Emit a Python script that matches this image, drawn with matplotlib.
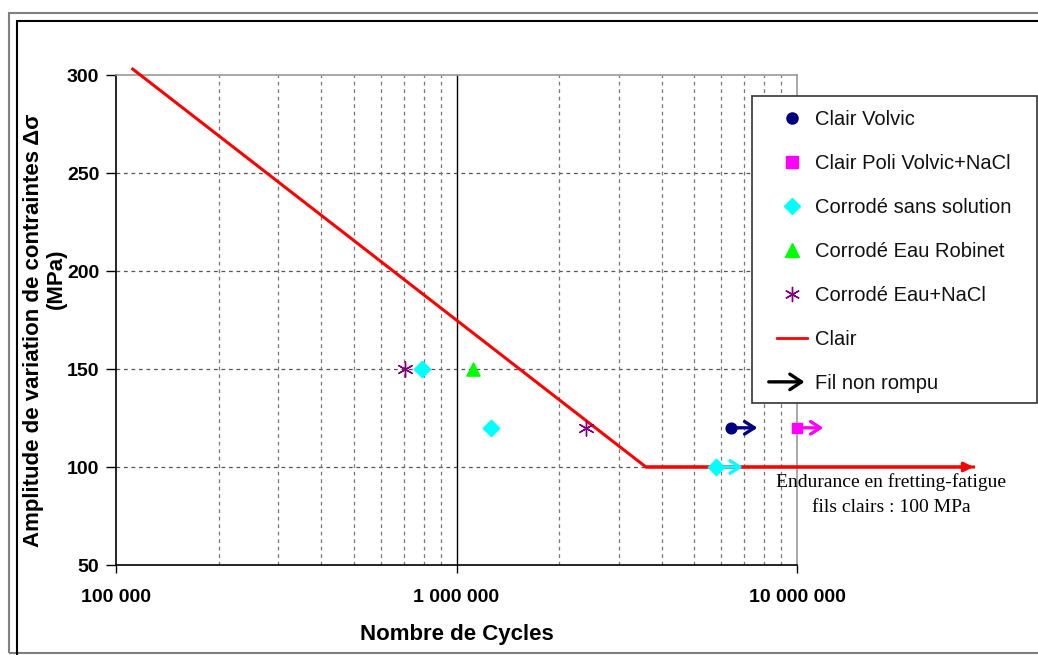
import numpy as np
import matplotlib.pyplot as plt
from matplotlib.lines import Line2D
from matplotlib.patches import Rectangle, FancyArrowPatch
from matplotlib.legend_handler import HandlerPatch
from matplotlib.transforms import offset_copy

plt.rcParams['font.family'] = ['Liberation Sans', 'DejaVu Sans']

# data (cycles, MPa)
clair_volvic_n = [6.4e6]
clair_volvic_s = [120]
clair_poli_n = [1.0e7]
clair_poli_s = [120]
sans_solution_n = [7.9e5, 1.26e6, 5.8e6]
sans_solution_s = [150, 120, 100]
eau_robinet_n = [1.12e6]
eau_robinet_s = [150]
eau_nacl_n = [7.05e5, 2.4e6]
eau_nacl_s = [150, 120]
clair_n = [1.12e5, 3.6e6, 3.3e7]
clair_s = [303, 100, 100]

# points where the wire did not break (arrow to the right)
non_rompu_n = [6.4e6, 1.0e7, 5.8e6]
non_rompu_s = [120, 120, 100]
non_rompu_c = ['#000080', '#FF00FF', '#00FFFF']

x_ticks = [1e5, 1e6, 1e7]
x_tick_labels = ['100 000', '1 000 000', '10 000 000']
y_ticks = [50, 100, 150, 200, 250, 300]

fig = plt.figure(figsize=(10.38, 6.55), dpi=100)
W, H = 1038, 655
ax = fig.add_axes([116 / W, 1 - 565 / H, (797 - 116) / W, (565 - 75) / H])

# outer frames
fig.add_artist(Rectangle((9 / W, 1 - 653 / H), 1.2, (653 - 13) / H, transform=fig.transFigure,
                         fill=False, edgecolor='#808080', lw=1.5))
fig.add_artist(Rectangle((17 / W, -0.1), 1.2, 0.1 + (H - 21) / H, transform=fig.transFigure,
                         fill=False, edgecolor='black', lw=1.5))

ax.set_xscale('log')
ax.set_xlim(1e5, 1e7)
ax.set_ylim(50, 300)

# grid
for yv in y_ticks[1:-1]:
    ax.axhline(yv, color='#555555', lw=0.9, ls=(0, (3, 3)), zorder=1)
for dec in [1e5, 1e6]:
    for m in range(2, 10):
        ax.axvline(dec * m, color='#777777', lw=0.9, ls=(0, (3, 3)), zorder=1)
ax.axvline(1e6, color='black', lw=1.0, zorder=1)

for s in ['top', 'right']:
    ax.spines[s].set_color('#999999')
    ax.spines[s].set_linewidth(1.2)
for s in ['left', 'bottom']:
    ax.spines[s].set_color('black')
    ax.spines[s].set_linewidth(1.2)

ax.set_xticks(x_ticks)
ax.set_xticklabels(x_tick_labels, fontsize=14, fontweight='bold')
ax.set_xticks([], minor=True)
ax.set_yticks(y_ticks)
ax.set_yticklabels([str(v) for v in y_ticks], fontsize=14, fontweight='bold')
ax.tick_params(axis='x', length=6, width=1, pad=11)
ax.tick_params(axis='y', length=7, width=1, pad=5)

# Clair line + endurance arrow
ax.plot(clair_n, clair_s, color='#FF0000', lw=2.2, clip_on=False, zorder=3)
ax.annotate('', xy=(clair_n[-1], clair_s[-1]), xytext=(clair_n[-2], clair_s[-2]),
            arrowprops=dict(arrowstyle='-|>', color='#FF0000', lw=2.2, mutation_scale=14,
                            shrinkA=0, shrinkB=0), annotation_clip=False, zorder=3)

# arrows for unbroken wires
for n, s, c in zip(non_rompu_n, non_rompu_s, non_rompu_c):
    ax.annotate('', xy=(n, s), xycoords=offset_copy(ax.transData, fig, x=19, units='points'),
                xytext=(n, s), textcoords='data',
                arrowprops=dict(arrowstyle='->,head_length=0.7,head_width=0.45', color=c, lw=2.4,
                                shrinkA=0, shrinkB=0), annotation_clip=False, zorder=4)

ax.scatter(clair_volvic_n, clair_volvic_s, marker='o', s=60, color='#000080', zorder=5, clip_on=False)
ax.scatter(clair_poli_n, clair_poli_s, marker='s', s=60, color='#FF00FF', zorder=5, clip_on=False)
ax.scatter(sans_solution_n, sans_solution_s, marker='D', s=70, color='#00FFFF', zorder=5)
ax.scatter(eau_robinet_n, eau_robinet_s, marker='^', s=90, color='#00FF00', zorder=5)
ax.scatter(eau_nacl_n, eau_nacl_s, marker=(6, 2, 0), s=120, color='#800080', lw=1, zorder=5)

ax.set_xlabel('Nombre de Cycles', fontsize=16, fontweight='bold', labelpad=13)
fig.text(34 / W, 1 - 330 / H, 'Amplitude de variation de contraintes Δσ', rotation=90,
         fontsize=16, fontweight='bold', ha='center', va='center')
fig.text(56 / W, 1 - 279 / H, '(MPa)', rotation=90,
         fontsize=16, fontweight='bold', ha='center', va='center')

ax.text(891 / W, 1 - 482 / H, 'Endurance en fretting-fatigue', transform=fig.transFigure,
        family='Liberation Serif', fontsize=14, ha='center', va='center')
ax.text(891 / W, 1 - 507 / H, 'fils clairs : 100 MPa', transform=fig.transFigure,
        family='Liberation Serif', fontsize=14, ha='center', va='center')


def make_arrow(legend, orig_handle, xdescent, ydescent, width, height, fontsize):
    return FancyArrowPatch((-xdescent - 8, height / 2 - ydescent), (width - xdescent, height / 2 - ydescent),
                           arrowstyle='->,head_length=0.6,head_width=0.4', mutation_scale=14)


handles = [
    Line2D([], [], ls='none', marker='o', ms=8, color='#000080'),
    Line2D([], [], ls='none', marker='s', ms=8, color='#FF00FF'),
    Line2D([], [], ls='none', marker='D', ms=8, color='#00FFFF'),
    Line2D([], [], ls='none', marker='^', ms=10, color='#00FF00'),
    Line2D([], [], ls='none', marker=(6, 2, 0), ms=11, color='#800080', mew=1),
    Line2D([], [], color='#FF0000', lw=2),
    FancyArrowPatch((0, 0), (1, 0), lw=2.4, color='black'),
]
labels = ['Clair Volvic', 'Clair Poli Volvic+NaCl', 'Corrodé sans solution', 'Corrodé Eau Robinet',
          'Corrodé Eau+NaCl', 'Clair', 'Fil non rompu']
leg = fig.legend(handles, labels, loc='upper left', bbox_to_anchor=(765 / W, 1 - 98 / H),
                 bbox_transform=fig.transFigure, fontsize=14.5, frameon=False,
                 labelspacing=1.24, handlelength=1.5,
                 handletextpad=0.4, borderpad=0.6, borderaxespad=0,
                 handler_map={FancyArrowPatch: HandlerPatch(patch_func=make_arrow)})
for t in leg.get_texts():
    t.set_color('#111111')
# legend box
fig.add_artist(Rectangle((752 / W, 1 - 403 / H), (1037 - 752) / W, (403 - 96) / H,
                         transform=fig.transFigure, fill=True, facecolor='white',
                         edgecolor='#333333', lw=1.2, zorder=2))
leg.set_zorder(3)

fig.savefig('out.png', dpi=100)
